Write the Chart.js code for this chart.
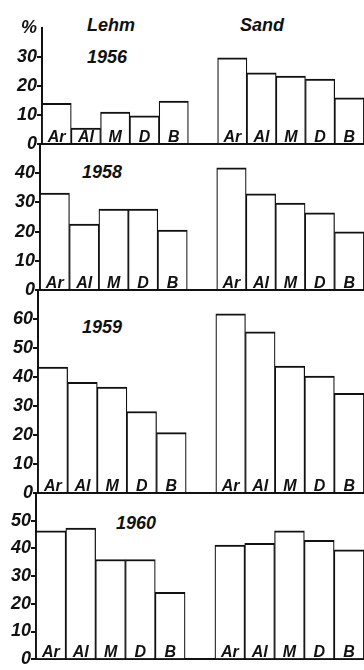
<!DOCTYPE html>
<html><head><meta charset="utf-8">
<script src="https://cdn.jsdelivr.net/npm/chart.js@4"></script>
<style>
html,body{margin:0;padding:0;background:#fff;width:364px;height:670px;overflow:hidden;}
canvas{position:absolute;left:0;}
.t{position:absolute;font:italic bold 18px "Liberation Sans",Arial,sans-serif;line-height:18px;color:#111;white-space:nowrap;}
</style></head><body>
<div class="t" id="h0" style="left:87px;top:16px;"></div>
<div class="t" id="h1" style="left:240px;top:16px;"></div>
<div class="t" id="y0" style="left:87px;top:48px;"></div>
<div class="t" id="y1" style="left:82px;top:163px;"></div>
<div class="t" id="y2" style="left:82px;top:318px;"></div>
<div class="t" id="y3" style="left:116px;top:514px;"></div>
<canvas id="c0" width="364" height="158" style="top:0px"></canvas>
<canvas id="c1" width="364" height="174" style="top:130px"></canvas>
<canvas id="c2" width="364" height="231" style="top:276px"></canvas>
<canvas id="c3" width="364" height="191" style="top:479px"></canvas>
<script>
// ---- data ----
const categories = ['Ar', 'Al', 'M', 'D', 'B'];
const soils = ['Lehm', 'Sand'];
const years = ['1956', '1958', '1959', '1960'];
const lehm1956 = [14, 5.5, 11, 9.7, 14.8];
const sand1956 = [29.7, 24.5, 23.4, 22.4, 15.9];
const lehm1958 = [33.2, 22.6, 27.7, 27.7, 20.5];
const sand1958 = [41.8, 32.9, 29.8, 26.4, 19.9];
const lehm1959 = [43.4, 38.2, 36.5, 28.1, 20.8];
const sand1959 = [61.8, 55.6, 43.8, 40.3, 34.4];
const lehm1960 = [46.3, 47.3, 36, 36, 24.1];
const sand1960 = [41.2, 41.8, 46.3, 42.9, 39.5];
const yTicks1956 = ['0', '10', '20', '30', '%'];
const yTicks1958 = ['0', '10', '20', '30', '40'];
const yTicks1959 = ['0', '10', '20', '30', '40', '50', '60'];
const yTicks1960 = ['0', '10', '20', '30', '40', '50'];

document.getElementById('h0').textContent = soils[0];
document.getElementById('h1').textContent = soils[1];
years.forEach((y, i) => document.getElementById('y' + i).textContent = y);

const INK = '#111';
const FAMILY = '"Liberation Sans", Arial, sans-serif';

const barLabels = {
  id: 'barLabels',
  afterDatasetsDraw(chart) {
    const ctx = chart.ctx, xs = chart.scales.x, ys = chart.scales.y;
    ctx.save();
    ctx.font = 'italic bold 16px ' + FAMILY;
    ctx.fillStyle = INK;
    ctx.textAlign = 'center';
    ctx.textBaseline = 'alphabetic';
    chart.data.labels.forEach((lab, i) => {
      if (!lab) return;
      ctx.fillText(lab, xs.getPixelForValue(i), ys.getPixelForValue(0) - 2.5);
    });
    ctx.restore();
  }
};

function makePanel(id, lehm, sand, yMax, tickLabels, axisX, padTop, padBottom) {
  const labels = [...categories, '', ...categories];
  const data = [...lehm, null, ...sand];
  const labelFor = v => {
    const s = tickLabels[Math.round(v / 10)];
    return s === undefined ? '' : s;
  };
  new Chart(document.getElementById(id), {
    type: 'bar',
    data: {
      labels,
      datasets: [{
        data,
        backgroundColor: '#fff',
        borderColor: INK,
        borderWidth: {top: 2, left: 1.25, right: 1.25, bottom: 0},
        borderSkipped: 'start',
        barPercentage: 1,
        categoryPercentage: 1
      }]
    },
    options: {
      responsive: false,
      animation: false,
      events: [],
      layout: {padding: {top: padTop, bottom: padBottom, left: 0, right: 0}, autoPadding: false},
      plugins: {legend: {display: false}, tooltip: {enabled: false}},
      scales: {
        x: {
          type: 'category',
          offset: true,
          grid: {display: false},
          ticks: {display: false},
          border: {display: true, color: INK, width: 2},
          afterFit(s) { s.height = 0; }
        },
        y: {
          min: 0, max: yMax,
          ticks: {
            stepSize: 10, autoSkip: false, color: INK, padding: 0,
            font: {family: FAMILY, size: 18, style: 'italic', weight: 'bold'},
            callback: v => labelFor(v)
          },
          grid: {
            drawOnChartArea: false, drawTicks: true, tickLength: 5, lineWidth: 2,
            color: c => {
              const s = labelFor(c.tick ? c.tick.value : 0);
              return (s === '' || s === '%') ? 'rgba(0,0,0,0)' : INK;
            }
          },
          border: {display: true, color: INK, width: 2},
          afterFit(s) { s.width = axisX; }
        }
      }
    },
    plugins: [barLabels]
  });
}

makePanel('c0', lehm1956, sand1956, 40, yTicks1956, 42, 28, 14);
makePanel('c1', lehm1958, sand1958, 50, yTicks1958, 40, 14, 14);
makePanel('c2', lehm1959, sand1959, 70, yTicks1959, 38, 14, 14);
makePanel('c3', lehm1960, sand1960, 60, yTicks1960, 36, 14, 3);
</script>
</body></html>
